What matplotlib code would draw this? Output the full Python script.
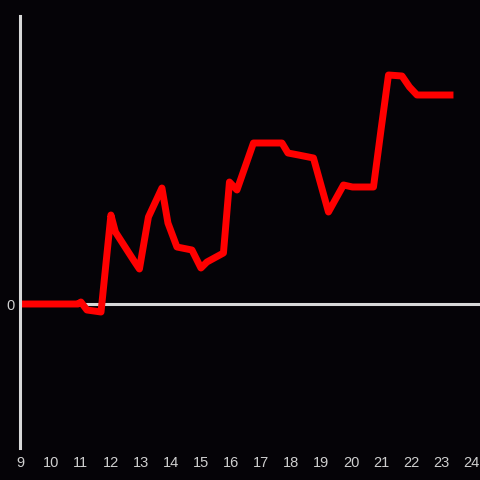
import matplotlib.pyplot as plt

# Data
x = [9, 10.9, 11, 11.2, 11.67, 12, 12.15, 12.75, 12.95, 13.25, 13.7, 13.9, 14.2,
     14.7, 15, 15.2, 15.75, 15.95, 16.2, 16.75, 17.7, 17.9, 18.25, 18.75, 19,
     19.25, 19.75, 20.05, 20.75, 21, 21.25, 21.7, 21.95, 22.2, 23.3]
y = [0, 0, 2, -6, -8, 89, 72, 44, 35, 87, 116, 81, 57,
     54, 36, 42, 51, 122, 114, 161, 161, 151, 149, 146, 119,
     92, 119, 117, 117, 174, 229, 228, 217, 209, 209]
xticks = list(range(9, 25))

bg = '#050307'
axis_color = '#d8d8d8'
plt.rcParams['font.family'] = ['Liberation Sans', 'DejaVu Sans']

fig = plt.figure(figsize=(4.8, 4.8), dpi=100, facecolor=bg)
ax = fig.add_axes([20 / 480, 32 / 480, 460 / 480, 432 / 480])
ax.set_facecolor(bg)

ax.axhline(0, color=axis_color, linewidth=2.2, zorder=1)
ax.plot(x, y, color='#ff0000', linewidth=5, solid_joinstyle='round', zorder=2)

ax.set_xlim(8.97, 24.3)
ax.set_ylim(-144, 288)

for s in ['top', 'right', 'bottom']:
    ax.spines[s].set_visible(False)
ax.spines['left'].set_color(axis_color)
ax.spines['left'].set_linewidth(2.2)

ax.set_xticks(xticks)
ax.set_yticks([0])
ax.tick_params(axis='both', length=0, colors='#cfcfcf', labelsize=10.5)
ax.tick_params(axis='x', pad=5.5)
ax.tick_params(axis='y', pad=4)

plt.savefig('out.png', dpi=100, facecolor=bg)
